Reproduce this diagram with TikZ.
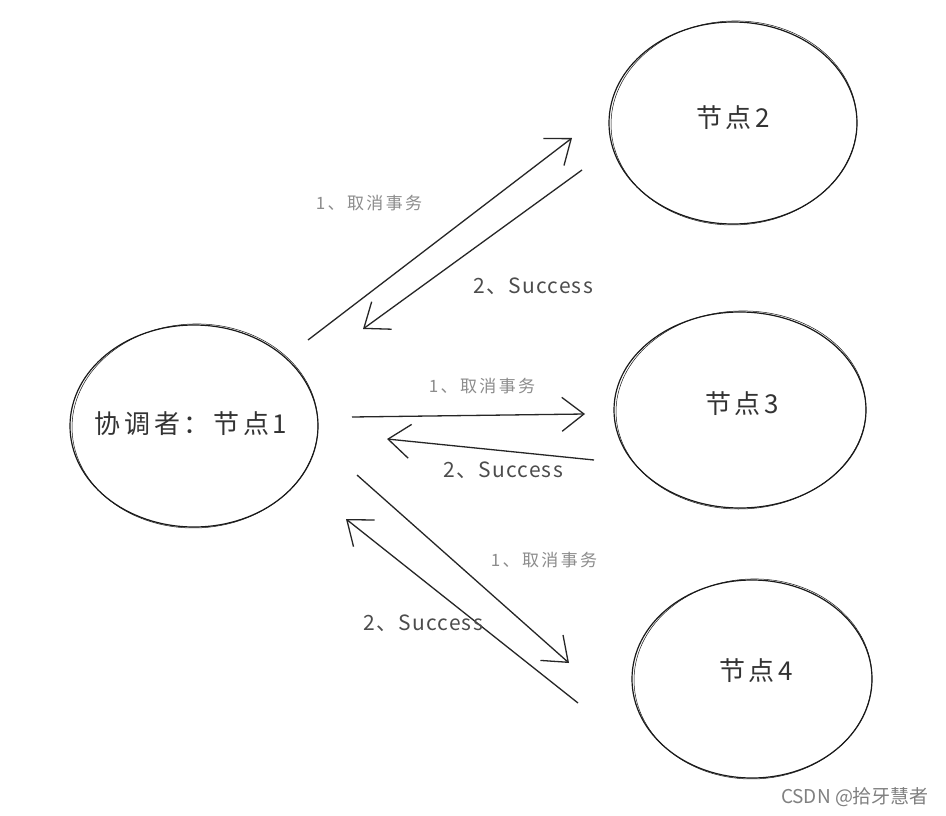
\documentclass[tikz,border=0pt]{standalone}
\usepackage{fontspec}
\setmainfont{Noto Sans CJK SC}
\newfontfamily\wmfont{Noto Sans CJK SC}
\newfontfamily\spfont[LetterSpace=14]{Noto Sans CJK SC}
\newfontfamily\spfontb[LetterSpace=6]{Noto Sans CJK SC}
\usetikzlibrary{arrows.meta}
\tikzset{
  sketch/.style={draw=black!90, line width=1.2pt},
  arr/.style={draw=black!85, line width=1.3pt, -{Straight Barb[length=22pt,width=34pt,line width=1.3pt]}},
  lab1/.style={text=black!45, font=\spfont\fontsize{17}{20}\selectfont},
  lab2/.style={text=black!70, font=\spfontb\fontsize{21}{24}\selectfont},
  nodetext/.style={text=black!80, font=\spfont\fontsize{26}{28}\selectfont},
}
\begin{document}
\begin{tikzpicture}[x=1pt,y=-1pt]
\useasboundingbox[fill=white] (0,0) rectangle (946,816);
% ellipses (slightly doubled for sketch look)
\foreach \n/\cx/\cy/\rx/\ry in {c/194/426/124/101, b/733/123/124/101, d/740/410/126/98, e/752/679/120/99}{
  \draw[sketch] (\cx,\cy) ellipse [x radius=\rx, y radius=\ry];
  \draw[sketch, line width=0.5pt, rotate around={2:(\cx,\cy)}] (\cx+1,\cy) ellipse [x radius=\rx-1, y radius=\ry+1];
}
\node[nodetext] (coord) at (191,424) {协调者：节点1};
\node[nodetext] (n2) at (733,118) {节点2};
\node[nodetext] (n3) at (742,404) {节点3};
\node[nodetext] (n4) at (756,671) {节点4};
% arrow endpoints
\coordinate (a1s) at (308,340); \coordinate (a1e) at (572,138);
\coordinate (a2s) at (582,170); \coordinate (a2e) at (363,329);
\coordinate (b1s) at (352,417); \coordinate (b1e) at (585,414);
\coordinate (b2s) at (594,460); \coordinate (b2e) at (387,439);
\coordinate (c1s) at (357,475); \coordinate (c1e) at (569,663);
\coordinate (c2s) at (578,703); \coordinate (c2e) at (346,519);
\draw[arr] (a1s) -- (a1e);
\draw[arr] (a2s) -- (a2e);
\draw[arr] (b1s) -- (b1e);
\draw[arr] (b2s) -- (b2e);
\draw[arr] (c1s) -- (c1e);
\draw[arr] (c2s) -- (c2e);
% labels
\node[lab1] (l1) at (369,203) {1、取消事务};
\node[lab2] (l2) at (533,286) {2、Success};
\node[lab1] (l3) at (482,386) {1、取消事务};
\node[lab2] (l4) at (503,470) {2、Success};
\node[lab1] (l5) at (544,560) {1、取消事务};
\node[lab2] (l6) at (423,623) {2、Success};
\node[text=black!50, font=\wmfont\fontsize{19}{22}\selectfont] (wm) at (855,797) {CSDN @拾牙慧者};
\end{tikzpicture}
\end{document}
